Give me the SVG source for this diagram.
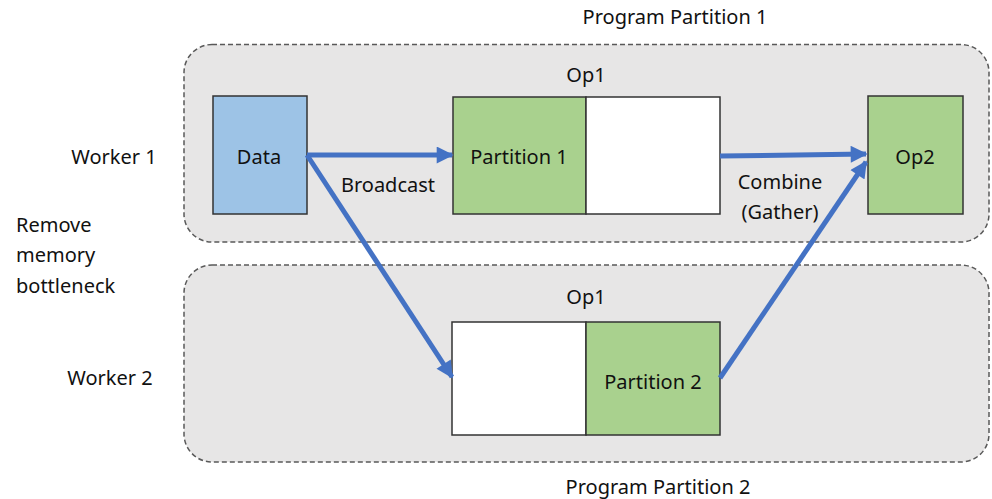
<svg xmlns="http://www.w3.org/2000/svg" width="992" height="499" viewBox="0 0 992 499">
  <style>
    .lbl { font-family: "Noto Sans", "Open Sans", sans-serif; font-size: 20px; fill: #111; }
    .mid { text-anchor: middle; }
    .region { fill: #E7E6E6; stroke: #595959; stroke-width: 1.5; stroke-dasharray: 5 3; }
    .box { stroke: #333; stroke-width: 1.5; }
    .data { fill: #9DC3E6; }
    .part { fill: #A9D18E; }
    .empty { fill: #FFFFFF; }
    .flow { stroke: #4472C4; stroke-width: 5; fill: none; }
  </style>
  <defs>
    <marker id="arrow" viewBox="0 0 10 10" refX="9" refY="5" markerWidth="3.6" markerHeight="3.4" orient="auto" markerUnits="strokeWidth">
      <path d="M0,0 L10,5 L0,10 Z" fill="#4472C4"/>
    </marker>
  </defs>

  <rect width="992" height="499" fill="#FFFFFF"/>

  <!-- program partitions -->
  <g id="program-partition-1">
    <rect class="region" x="184" y="44.5" width="805" height="197.5" rx="28" ry="28"/>
    <text class="lbl mid" x="675" y="24">Program Partition 1</text>
  </g>
  <g id="program-partition-2">
    <rect class="region" x="184" y="265" width="805" height="197" rx="28" ry="28"/>
    <text class="lbl mid" x="658" y="494">Program Partition 2</text>
  </g>

  <!-- side labels -->
  <g id="worker-1"><text class="lbl mid" x="114" y="164">Worker 1</text></g>
  <g id="worker-2"><text class="lbl mid" x="110" y="385">Worker 2</text></g>
  <g id="note">
    <text class="lbl" x="16" y="232">Remove</text>
    <text class="lbl" x="16" y="262">memory</text>
    <text class="lbl" x="16" y="293">bottleneck</text>
  </g>

  <!-- nodes -->
  <g id="data">
    <rect class="box data" x="213" y="96" width="94" height="118"/>
    <text class="lbl mid" x="259" y="164">Data</text>
  </g>
  <g id="op1-worker1">
    <text class="lbl mid" x="586" y="82">Op1</text>
    <rect class="box part" x="453" y="97" width="133" height="117"/>
    <rect class="box empty" x="586" y="97" width="134" height="117"/>
    <text class="lbl mid" x="519" y="164">Partition 1</text>
  </g>
  <g id="op1-worker2">
    <text class="lbl mid" x="586" y="304">Op1</text>
    <rect class="box empty" x="452" y="322" width="134" height="113"/>
    <rect class="box part" x="586" y="322" width="134" height="113"/>
    <text class="lbl mid" x="653" y="389">Partition 2</text>
  </g>
  <g id="op2">
    <rect class="box part" x="868" y="96" width="95" height="118"/>
    <text class="lbl mid" x="915" y="164">Op2</text>
  </g>

  <!-- connectors -->
  <g id="connectors">
    <line class="flow" x1="307" y1="155" x2="452" y2="155" marker-end="url(#arrow)"/>
    <line class="flow" x1="307" y1="155" x2="452" y2="377" marker-end="url(#arrow)"/>
    <line class="flow" x1="720" y1="156" x2="866" y2="154" marker-end="url(#arrow)"/>
    <line class="flow" x1="720" y1="378" x2="866" y2="162" marker-end="url(#arrow)"/>
    <text class="lbl mid" x="388" y="192">Broadcast</text>
    <text class="lbl mid" x="780" y="189">Combine</text>
    <text class="lbl mid" x="780" y="219">(Gather)</text>
  </g>
</svg>
